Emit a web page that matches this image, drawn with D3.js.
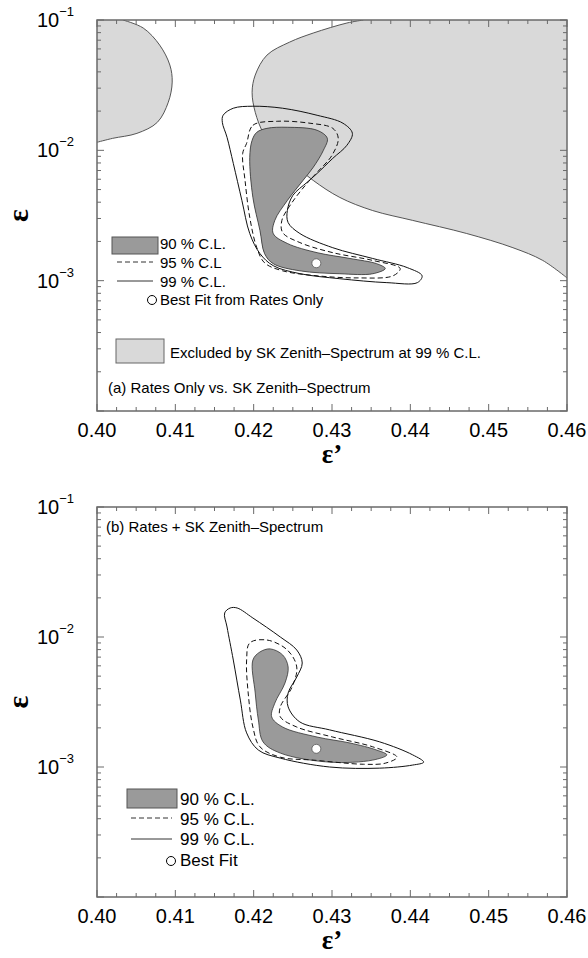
<!DOCTYPE html>
<html>
<head>
<meta charset="utf-8">
<script src="https://cdn.jsdelivr.net/npm/d3@7"></script>
<style>
  body { margin: 0; background: #fff; }
  text { font-family: "Liberation Sans", Arial, sans-serif; fill: #000; }
</style>
</head>
<body>
<script>
// axis ticks
var xMajor = [0.40, 0.41, 0.42, 0.43, 0.44, 0.45, 0.46];
var yMajor = [1e-4, 1e-3, 1e-2, 1e-1];
var yLabelExp = [-3, -2, -1];

// regions excluded by SK zenith spectrum at 99% CL (eps', eps)
var excludedLeft = [[0.4033, 0.1], [0.4059, 0.0868], [0.4080, 0.0642], [0.4093, 0.0451],
  [0.4096, 0.0334], [0.4091, 0.0234], [0.4077, 0.0164], [0.4051, 0.0135],
  [0.4020, 0.01236], [0.400, 0.01153]];
var excludedRight = [[0.4340, 0.1], [0.4319, 0.0948], [0.4276, 0.0794], [0.4246, 0.0677],
  [0.4217, 0.0538], [0.4202, 0.0378], [0.4198, 0.0279], [0.4202, 0.0196],
  [0.4212, 0.0137], [0.4223, 0.01132], [0.4250, 0.00794], [0.4276, 0.00588],
  [0.4310, 0.00435], [0.4352, 0.00345], [0.4403, 0.00290], [0.4472, 0.00230],
  [0.4531, 0.00179], [0.4569, 0.00143], [0.460, 0.00105]];

// (a) rates only contours
var ratesC90 = [[0.4217, 0.01475], [0.4243, 0.01503], [0.4281, 0.01425], [0.4294, 0.01236],
  [0.4289, 0.0100], [0.4276, 0.0074], [0.4263, 0.00588], [0.4243, 0.00412],
  [0.4227, 0.0029], [0.4225, 0.0023], [0.4243, 0.00193], [0.4281, 0.00164],
  [0.4323, 0.00148], [0.4357, 0.00135], [0.4368, 0.00124], [0.4352, 0.00113],
  [0.4310, 0.00113], [0.4259, 0.00119], [0.4225, 0.00135], [0.4214, 0.00161],
  [0.4208, 0.00243], [0.4199, 0.00435], [0.4195, 0.00883], [0.4198, 0.01194],
  [0.4204, 0.01375]];
var ratesC95 = [[0.4191, 0.01132], [0.4199, 0.01556], [0.4230, 0.01671], [0.4272, 0.01614],
  [0.4301, 0.01475], [0.4308, 0.01236], [0.4300, 0.00916], [0.4281, 0.00678],
  [0.4268, 0.00557], [0.4249, 0.00398], [0.4236, 0.0029], [0.4237, 0.00234],
  [0.4259, 0.00196], [0.4301, 0.00164], [0.4352, 0.00143], [0.4387, 0.00124],
  [0.4378, 0.00109], [0.4332, 0.00105], [0.4281, 0.00109], [0.4237, 0.00119],
  [0.4214, 0.00137], [0.4204, 0.00179], [0.4195, 0.00306], [0.4189, 0.00588],
  [0.4186, 0.00948]];
var ratesC99 = [[0.4161, 0.01858], [0.4174, 0.02104], [0.4199, 0.02180], [0.4237, 0.02104],
  [0.4281, 0.01858], [0.4314, 0.01614], [0.4326, 0.01352], [0.4319, 0.01093],
  [0.4301, 0.00868], [0.4281, 0.00665], [0.4268, 0.00567], [0.4250, 0.00451],
  [0.4243, 0.00345], [0.4244, 0.00279], [0.4259, 0.00230], [0.4301, 0.00179],
  [0.4352, 0.00148], [0.4396, 0.00126], [0.4415, 0.00109], [0.4409, 0.000966],
  [0.4370, 0.000966], [0.4310, 0.001035], [0.4259, 0.001132], [0.4225, 0.001303],
  [0.4208, 0.001614], [0.4195, 0.00230], [0.4185, 0.00412], [0.4174, 0.00794],
  [0.4166, 0.01259], [0.4160, 0.01641]];
var ratesBest = [0.428, 0.00136];

// (b) rates + SK zenith spectrum contours
var combC90 = [[0.4221, 0.0081], [0.4237, 0.00728], [0.4244, 0.00588], [0.4240, 0.00443],
  [0.4227, 0.0031], [0.4223, 0.00243], [0.4237, 0.00203], [0.4281, 0.0017],
  [0.4323, 0.00153], [0.4357, 0.00135], [0.4370, 0.00124], [0.4352, 0.00113],
  [0.4297, 0.00109], [0.4234, 0.00128], [0.4212, 0.00156], [0.4206, 0.0023],
  [0.4202, 0.00371], [0.4199, 0.00665], [0.4208, 0.00767]];
var combC95 = [[0.4195, 0.0090], [0.4217, 0.00948], [0.4243, 0.00794], [0.4255, 0.00588],
  [0.4249, 0.00412], [0.4234, 0.0029], [0.4234, 0.00243], [0.4255, 0.00203],
  [0.4301, 0.0017], [0.4352, 0.00143], [0.4383, 0.00119], [0.4368, 0.00107],
  [0.4340, 0.00105], [0.4276, 0.00113], [0.4234, 0.00119], [0.4208, 0.00143],
  [0.4199, 0.00203], [0.4193, 0.00371], [0.4191, 0.00665]];
var combC99 = [[0.4170, 0.01671], [0.4163, 0.01531], [0.4166, 0.01194], [0.4174, 0.00665],
  [0.4183, 0.00327], [0.4191, 0.00183], [0.4206, 0.00135], [0.4234, 0.00117],
  [0.4297, 0.0010], [0.4361, 0.00098], [0.4403, 0.001035], [0.4417, 0.00109],
  [0.4403, 0.00124], [0.4361, 0.00156], [0.4297, 0.00193], [0.4259, 0.00222],
  [0.4244, 0.0029], [0.4244, 0.00371], [0.4255, 0.00492], [0.4262, 0.00631],
  [0.4255, 0.00794], [0.4234, 0.0100], [0.4199, 0.0140], [0.4179, 0.01671]];
var combBest = [0.428, 0.00138];

var W = 588, H = 958;
var svg = d3.select("body").append("svg").attr("width", W).attr("height", H);

var x = d3.scaleLinear().domain([0.40, 0.46]).range([97, 567]);

var darkFill = "#9a9a9a", lightFill = "#d9d9d9", frameCol = "#6a6a6a";

function panel(id, top, bottom) {
  var y = d3.scaleLog().domain([1e-4, 1e-1]).range([bottom, top]);
  var g = svg.append("g");
  svg.append("clipPath").attr("id", id)
    .append("rect").attr("x", x(0.40)).attr("y", top)
    .attr("width", x(0.46) - x(0.40)).attr("height", bottom - top);
  var plot = g.append("g").attr("clip-path", "url(#" + id + ")");
  return {y: y, g: g, plot: plot, top: top, bottom: bottom};
}

function closedPath(p, pts) {
  return d3.line().x(function(d) { return x(d[0]); }).y(function(d) { return p.y(d[1]); })
    .curve(d3.curveCatmullRomClosed.alpha(0.5))(pts);
}
function openPath(p, pts) {
  return d3.line().x(function(d) { return x(d[0]); }).y(function(d) { return p.y(d[1]); })
    .curve(d3.curveCatmullRom.alpha(0.5))(pts);
}

function drawFrame(p) {
  var g = p.g;
  // minor ticks along x
  var xMinor = [];
  for (var i = 0; i <= 24; i++) xMinor.push(0.40 + i * 0.0025);
  var yMinor = [];
  [1e-4, 1e-3, 1e-2].forEach(function(dec) {
    for (var k = 2; k <= 9; k++) yMinor.push(dec * k);
  });
  var tk = g.append("g").attr("stroke", frameCol).attr("stroke-width", 1);
  xMinor.forEach(function(v) {
    var major = Math.abs(v * 100 - Math.round(v * 100)) < 1e-6;
    var len = major ? 7 : 4;
    tk.append("line").attr("x1", x(v)).attr("x2", x(v)).attr("y1", p.bottom).attr("y2", p.bottom - len);
    tk.append("line").attr("x1", x(v)).attr("x2", x(v)).attr("y1", p.top).attr("y2", p.top + len);
  });
  yMinor.concat(yMajor).forEach(function(v) {
    var major = yMajor.indexOf(v) >= 0;
    var len = major ? 7 : 4;
    tk.append("line").attr("x1", x(0.40)).attr("x2", x(0.40) + len).attr("y1", p.y(v)).attr("y2", p.y(v));
    tk.append("line").attr("x1", x(0.46)).attr("x2", x(0.46) - len).attr("y1", p.y(v)).attr("y2", p.y(v));
  });
  g.append("rect").attr("x", x(0.40)).attr("y", p.top)
    .attr("width", x(0.46) - x(0.40)).attr("height", p.bottom - p.top)
    .attr("fill", "none").attr("stroke", frameCol).attr("stroke-width", 1.5);

  // tick labels
  g.selectAll(".xl").data(xMajor).enter().append("text")
    .attr("x", function(d) { return x(d); }).attr("y", p.bottom + 26)
    .attr("text-anchor", "middle").attr("font-size", 20)
    .text(d3.format(".2f"));
  yLabelExp.forEach(function(e) {
    var t = g.append("text").attr("x", 37).attr("y", p.y(Math.pow(10, e)) + 7).attr("font-size", 20);
    t.append("tspan").text("10");
    t.append("tspan").attr("dy", -11).attr("font-size", 13).text("\u2212" + (-e));
  });
  // axis titles
  g.append("text").attr("transform", "translate(28," + ((p.top + p.bottom) / 2) + ") rotate(-90)")
    .attr("text-anchor", "middle")
    .attr("font-weight", "bold").attr("font-size", 30).style("font-family", "Liberation Serif, serif")
    .text("\u03b5");
  g.append("text").attr("x", 332).attr("y", p.bottom + 52)
    .attr("text-anchor", "middle").style("font-family", "Liberation Serif, serif")
    .attr("font-weight", "bold").attr("font-size", 27).text("\u03b5\u2019");
}

function drawContours(p, c90, c95, c99, best) {
  p.plot.append("path").attr("d", closedPath(p, c90))
    .attr("fill", darkFill).attr("stroke", "#333").attr("stroke-width", 0.8);
  p.plot.append("path").attr("d", closedPath(p, c95))
    .attr("fill", "none").attr("stroke", "#111").attr("stroke-width", 1).attr("stroke-dasharray", "5,3");
  p.plot.append("path").attr("d", closedPath(p, c99))
    .attr("fill", "none").attr("stroke", "#111").attr("stroke-width", 1);
  p.plot.append("circle").attr("cx", x(best[0])).attr("cy", p.y(best[1])).attr("r", 4.5)
    .attr("fill", "#fff").attr("stroke", "#555").attr("stroke-width", 0.8);
}

// ---------- panel (a)
var pa = panel("clipA", 20, 411);
// excluded fills
var leftFill = openPath(pa, excludedLeft) + "L" + x(0.40) + "," + pa.y(0.1) + "Z";
var rightFill = openPath(pa, excludedRight) + "L" + x(0.46) + "," + pa.y(0.1) + "Z";
pa.plot.append("path").attr("d", leftFill).attr("fill", lightFill);
pa.plot.append("path").attr("d", rightFill).attr("fill", lightFill);
// 90% fill under the exclusion outline
pa.plot.append("path").attr("d", closedPath(pa, ratesC90)).attr("fill", darkFill);
pa.plot.append("path").attr("d", openPath(pa, excludedLeft))
  .attr("fill", "none").attr("stroke", "#555").attr("stroke-width", 1);
pa.plot.append("path").attr("d", openPath(pa, excludedRight))
  .attr("fill", "none").attr("stroke", "#555").attr("stroke-width", 1);
drawContours(pa, ratesC90, ratesC95, ratesC99, ratesBest);
drawFrame(pa);

// legend (a)
var la = pa.g.append("g");
la.append("rect").attr("x", 112).attr("y", 237).attr("width", 46).attr("height", 17)
  .attr("fill", darkFill).attr("stroke", "#555");
la.append("text").attr("x", 160).attr("y", 249).attr("font-size", 15).text("90 % C.L.");
la.append("line").attr("x1", 117).attr("x2", 153).attr("y1", 262).attr("y2", 262)
  .attr("stroke", "#333").attr("stroke-dasharray", "5,3");
la.append("text").attr("x", 160).attr("y", 268).attr("font-size", 15).text("95 % C.L");
la.append("line").attr("x1", 117).attr("x2", 153).attr("y1", 281).attr("y2", 281).attr("stroke", "#333");
la.append("text").attr("x", 160).attr("y", 287).attr("font-size", 15).text("99 % C.L.");
la.append("circle").attr("cx", 152).attr("cy", 300).attr("r", 4.5).attr("fill", "#fff").attr("stroke", "#000");
la.append("text").attr("x", 160).attr("y", 305).attr("font-size", 15).text("Best Fit from Rates Only");
la.append("rect").attr("x", 116).attr("y", 339).attr("width", 48).attr("height", 24)
  .attr("fill", lightFill).attr("stroke", "#666");
la.append("text").attr("x", 170).attr("y", 358).attr("font-size", 15)
  .text("Excluded by SK Zenith\u2013Spectrum at 99 % C.L.");
la.append("text").attr("x", 108).attr("y", 393).attr("font-size", 15)
  .text("(a) Rates Only vs. SK Zenith\u2013Spectrum");

// ---------- panel (b)
var pb = panel("clipB", 507, 897);
drawContours(pb, combC90, combC95, combC99, combBest);
drawFrame(pb);

var lb = pb.g.append("g");
lb.append("text").attr("x", 106).attr("y", 532).attr("font-size", 15)
  .text("(b) Rates + SK Zenith\u2013Spectrum");
lb.append("rect").attr("x", 127).attr("y", 789).attr("width", 50).attr("height", 19)
  .attr("fill", darkFill).attr("stroke", "#555");
lb.append("text").attr("x", 180).attr("y", 805).attr("font-size", 17).text("90 % C.L.");
lb.append("line").attr("x1", 131).attr("x2", 172).attr("y1", 818).attr("y2", 818)
  .attr("stroke", "#333").attr("stroke-dasharray", "5,3");
lb.append("text").attr("x", 180).attr("y", 825).attr("font-size", 17).text("95 % C.L.");
lb.append("line").attr("x1", 131).attr("x2", 172).attr("y1", 839).attr("y2", 839).attr("stroke", "#333");
lb.append("text").attr("x", 180).attr("y", 845).attr("font-size", 17).text("99 % C.L.");
lb.append("circle").attr("cx", 171).attr("cy", 861).attr("r", 4.5).attr("fill", "#fff").attr("stroke", "#000");
lb.append("text").attr("x", 180).attr("y", 866).attr("font-size", 17).text("Best Fit");
</script>
</body>
</html>
